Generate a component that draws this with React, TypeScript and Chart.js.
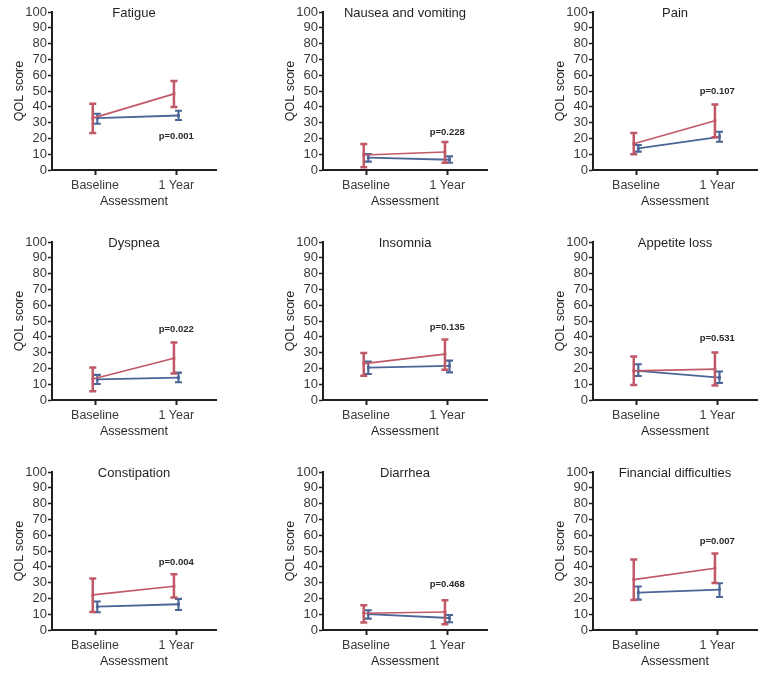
import React, { useEffect, useRef } from 'react';
import { Chart, registerables } from 'chart.js';

Chart.register(...registerables);

// ---------------- data ----------------
const categories = ['Baseline', '1 Year'];
const yTicks = [0, 10, 20, 30, 40, 50, 60, 70, 80, 90, 100];
const titles = [
  'Fatigue', 'Nausea and vomiting', 'Pain',
  'Dyspnea', 'Insomnia', 'Appetite loss',
  'Constipation', 'Diarrhea', 'Financial difficulties',
];
const pValues = ['p=0.001', 'p=0.228', 'p=0.107', 'p=0.022', 'p=0.135', 'p=0.531', 'p=0.004', 'p=0.468', 'p=0.007'];
// y value (QOL score) at which each p-value label is centred, above the 1 Year column
const pLabelY = [21, 24, 50, 44.6, 46, 39, 43, 29, 56];

// red group: mean, lower and upper error limits [Baseline, 1 Year]
const redMean = [[32.8, 48.2], [9.5, 11.4], [16.6, 31.2], [13.3, 26.4], [23.0, 29.0], [18.4, 19.5], [22.2, 27.7], [10.6, 11.4], [31.9, 39.1]];
const redLow = [[23.4, 39.8], [1.7, 4.6], [9.9, 20.8], [5.5, 16.7], [15.4, 19.2], [9.5, 9.1], [11.4, 20.5], [4.7, 3.6], [19.0, 29.8]];
const redHigh = [[41.9, 56.4], [16.4, 17.7], [23.4, 41.5], [20.5, 36.4], [29.8, 38.3], [27.5, 30.0], [32.6, 35.3], [15.6, 18.8], [44.6, 48.4]];

// blue group
const blueMean = [[32.8, 34.5], [7.8, 6.5], [13.7, 21.0], [13.1, 14.2], [20.5, 21.6], [18.4, 14.2], [14.8, 16.3], [10.1, 7.6], [23.7, 25.6]];
const blueLow = [[29.3, 31.6], [5.3, 4.6], [11.6, 17.9], [10.1, 11.2], [16.5, 17.5], [15.2, 10.8], [11.2, 12.7], [7.2, 4.9], [19.2, 20.9]];
const blueHigh = [[35.6, 37.5], [10.1, 8.6], [15.8, 24.2], [15.9, 17.3], [24.3, 24.9], [22.6, 18.0], [18.0, 19.7], [12.5, 9.5], [27.5, 29.6]];

// ---------------- style ----------------
const RED = '#c05868';
const BLUE = '#4a6596';
const AXIS = '#231f20';
const TEXT = '#3a3a3a';
const FONT = "'Liberation Sans', Arial, sans-serif";
const SHIFT = 0.028; // small horizontal dodge between the two groups (in category units)

const PANEL_W = 220;
const PANEL_H = 215;
const COL_LEFT = [0, 271, 541];
const ROW_TOP = [0, 230, 460];

const errorBarPlugin = {
  id: 'errorBars',
  afterDatasetDraw(chart: any, args: any) {
    const ds = chart.data.datasets[args.index] as any;
    if (!ds.errLow) return;
    const { ctx } = chart;
    const xs = chart.scales.x;
    const ys = chart.scales.y;
    ctx.save();
    ctx.strokeStyle = ds.borderColor;
    ctx.lineWidth = ds.errWidth;
    ds.data.forEach((pt: any, i: number) => {
      const x = xs.getPixelForValue(pt.x);
      const yl = ys.getPixelForValue(ds.errLow[i]);
      const yh = ys.getPixelForValue(ds.errHigh[i]);
      const cap = 3.5;
      ctx.beginPath();
      ctx.moveTo(x, yl);
      ctx.lineTo(x, yh);
      ctx.moveTo(x - cap, yl);
      ctx.lineTo(x + cap, yl);
      ctx.moveTo(x - cap, yh);
      ctx.lineTo(x + cap, yh);
      ctx.stroke();
    });
    ctx.restore();
  },
};

const textPlugin = {
  id: 'panelText',
  afterDraw(chart: any) {
    const opts = chart.options.plugins.panelText;
    const { ctx, chartArea } = chart;
    ctx.save();
    ctx.fillStyle = AXIS;
    ctx.textAlign = 'center';
    ctx.textBaseline = 'middle';
    ctx.font = `13px ${FONT}`;
    ctx.fillText(opts.title, (chartArea.left + chartArea.right) / 2, chartArea.top + 1);
    ctx.font = `bold 9.5px ${FONT}`;
    ctx.fillStyle = '#2a2a2a';
    ctx.fillText(opts.p, chart.scales.x.getPixelForValue(1), chart.scales.y.getPixelForValue(opts.pY));
    ctx.restore();
  },
};

function Panel({ idx }: { idx: number }) {
  const ref = useRef<HTMLCanvasElement | null>(null);
  useEffect(() => {
    if (!ref.current) return;
    const mk = (mean: number[], lo: number[], hi: number[], color: string, dx: number, lw: number, ew: number, label: string) => ({
      label,
      data: categories.map((_, i) => ({ x: i + dx, y: mean[i] })),
      errLow: lo,
      errHigh: hi,
      errWidth: ew,
      borderColor: color,
      backgroundColor: color,
      borderWidth: lw,
      pointStyle: 'rect',
      pointRadius: 2,
      pointBorderWidth: 0,
      tension: 0,
    });
    const chart = new Chart(ref.current, {
      type: 'line',
      data: {
        datasets: [
          mk(redMean[idx], redLow[idx], redHigh[idx], RED, -SHIFT, 1.7, 2.5, 'Group 1'),
          mk(blueMean[idx], blueLow[idx], blueHigh[idx], BLUE, SHIFT, 1.8, 2.1, 'Group 2'),
        ] as any,
      },
      options: {
        responsive: false,
        animation: false,
        events: [],
        layout: { padding: { top: 12, right: 4, left: 0, bottom: 0 } },
        plugins: {
          legend: { display: false },
          tooltip: { enabled: false },
          panelText: { title: titles[idx], p: pValues[idx], pY: pLabelY[idx] },
        } as any,
        scales: {
          x: {
            type: 'linear',
            min: -0.53,
            max: 1.49,
            afterFit: (s: any) => { s.height = 45; },
            afterBuildTicks: (s: any) => { s.ticks = categories.map((_, i) => ({ value: i })); },
            ticks: {
              callback: (v: any) => categories[v] ?? '',
              color: TEXT,
              font: { family: FONT, size: 12.5 },
              padding: 3,
              maxRotation: 0,
              autoSkip: false,
            },
            grid: { drawOnChartArea: false, drawTicks: true, tickLength: 5, tickColor: AXIS, tickWidth: 2 },
            border: { display: true, color: AXIS, width: 2 },
            title: { display: true, text: 'Assessment', color: AXIS, font: { family: FONT, size: 12.5 }, padding: { top: 0, bottom: 6 } },
          },
          y: {
            min: 0,
            max: 100,
            afterFit: (s: any) => { s.width = 52; },
            afterBuildTicks: (s: any) => { s.ticks = yTicks.map((v) => ({ value: v })); },
            ticks: { color: TEXT, font: { family: FONT, size: 13 }, padding: 1, autoSkip: false },
            grid: { drawOnChartArea: false, drawTicks: true, tickLength: 4, tickColor: AXIS, tickWidth: 1.5 },
            border: { display: true, color: AXIS, width: 2 },
            title: { display: true, text: 'QOL score', color: AXIS, font: { family: FONT, size: 12.5 }, padding: { top: 12, bottom: 0 } },
          },
        },
      },
      plugins: [errorBarPlugin, textPlugin],
    } as any);
    return () => chart.destroy();
  }, [idx]);
  const col = idx % 3;
  const row = Math.floor(idx / 3);
  return (
    <div style={{ position: 'absolute', left: COL_LEFT[col], top: ROW_TOP[row], width: PANEL_W, height: PANEL_H }}>
      <canvas ref={ref} width={PANEL_W} height={PANEL_H} style={{ width: PANEL_W, height: PANEL_H, display: 'block' }} />
    </div>
  );
}

export default function App() {
  return (
    <div style={{ position: 'absolute', left: 0, top: 0, width: 764, height: 675, background: '#ffffff' }}>
      {titles.map((_, i) => <Panel key={i} idx={i} />)}
    </div>
  );
}
